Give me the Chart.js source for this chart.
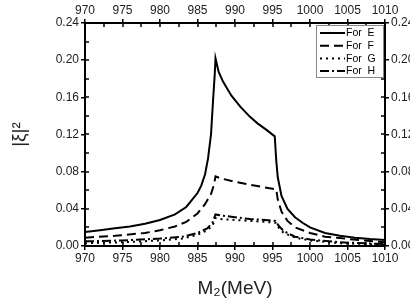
<!DOCTYPE html>
<html>
<head>
<meta charset="utf-8">
<script src="https://cdn.jsdelivr.net/npm/chart.js@4/dist/chart.umd.min.js"></script>
<style>
html,body{margin:0;padding:0;background:#fff;overflow:hidden;width:410px;height:307px;}
#wrap{width:430px;height:307px;position:relative;}
</style>
</head>
<body>
<div id="wrap"><canvas id="c" width="430" height="307"></canvas></div>
<script>
const seriesLabels = ['For  E', 'For  F', 'For  G', 'For  H'];
const xTickValues = [970, 975, 980, 985, 990, 995, 1000, 1005, 1010];
const yTickValues = [0, 0.04, 0.08, 0.12, 0.16, 0.20, 0.24];

const eX = [970,972,974,976,978,980,982,983.5,985,985.5,986,986.4,986.8,987.1,987.3,987.4,987.8,988.4,989.5,990.7,992,993,994.2,995.3,995.5,995.7,996.2,997,998,999,1000,1002,1004,1006,1008,1010];
const eY = [0.015,0.017,0.019,0.021,0.024,0.028,0.034,0.042,0.057,0.065,0.077,0.094,0.120,0.160,0.185,0.202,0.188,0.177,0.162,0.150,0.139,0.132,0.125,0.118,0.092,0.074,0.054,0.040,0.031,0.025,0.020,0.014,0.011,0.009,0.0075,0.0065];

const fX = [970,974,978,980,982,983.5,985,986,986.8,987.2,987.4,988,990,992,994,995.5,995.7,996.2,997,998,1000,1002,1004,1007,1010];
const fY = [0.009,0.011,0.014,0.017,0.021,0.026,0.035,0.045,0.056,0.066,0.075,0.073,0.069,0.066,0.063,0.061,0.050,0.037,0.027,0.020,0.014,0.010,0.0085,0.006,0.004];

const gX = [970,975,980,983,985,986.3,987,987.4,988,990,992,994,995.4,995.8,996.5,998,1000,1004,1010];
const gY = [0.003,0.004,0.006,0.008,0.012,0.017,0.022,0.030,0.029,0.028,0.027,0.026,0.025,0.020,0.014,0.009,0.006,0.003,0.0015];

const hX = [970,975,980,983,985,986.3,987,987.4,988,990,992,994,995.4,995.8,996.5,998,1000,1004,1010];
const hY = [0.005,0.006,0.008,0.010,0.014,0.019,0.025,0.034,0.033,0.031,0.029,0.028,0.027,0.022,0.016,0.010,0.007,0.004,0.002];

function pts(xs, ys){ return xs.map((x,i)=>({x:x, y:ys[i]})); }

const dashes = [[], [9,5], [2,4], [9,3,2,3]];
const allX = [eX, fX, gX, hX], allY = [eY, fY, gY, hY];

const datasets = seriesLabels.map((lab,i)=>({
  label: lab,
  data: pts(allX[i], allY[i]),
  borderColor: '#000',
  borderWidth: 2,
  borderDash: dashes[i],
  pointRadius: 0,
  fill: false,
  tension: 0
}));

const FONT = 'Liberation Sans, Arial, sans-serif';

const minorTicks = {
  id: 'minorTicks',
  afterDraw(chart){
    const ctx = chart.ctx, a = chart.chartArea;
    const xs = chart.scales.x, ys = chart.scales.y;
    ctx.save();
    ctx.strokeStyle = '#000'; ctx.lineWidth = 1.5;
    for (let v = 970; v <= 1010.001; v += 2.5){
      const px = Math.round(xs.getPixelForValue(v));
      ctx.beginPath(); ctx.moveTo(px, a.bottom); ctx.lineTo(px, a.bottom-4); ctx.stroke();
      ctx.beginPath(); ctx.moveTo(px, a.top); ctx.lineTo(px, a.top+4); ctx.stroke();
    }
    for (let v = 0; v <= 0.2401; v += 0.02){
      const py = Math.round(ys.getPixelForValue(v));
      ctx.beginPath(); ctx.moveTo(a.left, py); ctx.lineTo(a.left+4, py); ctx.stroke();
      ctx.beginPath(); ctx.moveTo(a.right, py); ctx.lineTo(a.right-4, py); ctx.stroke();
    }
    ctx.restore();
  }
};

const boxLegend = {
  id: 'boxLegend',
  afterDraw(chart){
    const ctx = chart.ctx, a = chart.chartArea;
    const bx = a.right - 69, by = a.top + 2, bw = 67, bh = 52;
    ctx.save();
    ctx.fillStyle = '#fff';
    ctx.fillRect(bx, by, bw, bh);
    ctx.strokeStyle = '#888'; ctx.lineWidth = 1;
    ctx.strokeRect(bx+0.5, by+0.5, bw, bh);
    ctx.font = '10.5px ' + FONT;
    ctx.textBaseline = 'middle';
    ctx.fillStyle = '#000';
    chart.data.datasets.forEach((ds,i)=>{
      const y = by + 8 + i*12.7;
      ctx.strokeStyle = '#000'; ctx.lineWidth = 2;
      ctx.setLineDash(ds.borderDash);
      ctx.beginPath(); ctx.moveTo(bx+4, y); ctx.lineTo(bx+29, y); ctx.stroke();
      ctx.setLineDash([]);
      ctx.fillText(ds.label, bx+30, y+0.5);
    });
    ctx.restore();
  }
};

function axisCommon(){
  return {
    grid: {display:true, drawOnChartArea:false, drawTicks:true, tickLength:4, color:'#000', lineWidth:1.5},
    border: {display:true, color:'#000', width:2}
  };
}
const tickFont = {family:FONT, size:12};
const xFmt = v => String(v);
const yFmt = v => Number(v).toFixed(2);

new Chart(document.getElementById('c'), {
  type: 'line',
  data: { datasets },
  options: {
    responsive: false,
    animation: false,
    events: [],
    layout: {padding: 0},
    plugins: { legend: {display:false}, tooltip: {enabled:false} },
    scales: {
      x: Object.assign(axisCommon(), {
        type: 'linear', position: 'bottom', min: 970, max: 1010,
        afterBuildTicks(s){ s.ticks = xTickValues.map(v=>({value:v})); },
        afterFit(s){ s.height = 61; },
        ticks: {color:'#222', font:tickFont, padding:1, maxRotation:0, autoSkip:false, callback:xFmt},
        title: {display:true, text:'M\u2082(MeV)', color:'#222', font:{family:FONT, size:19}, padding:{top:0, bottom:7}}
      }),
      x2: Object.assign(axisCommon(), {
        type: 'linear', position: 'top', min: 970, max: 1010,
        afterBuildTicks(s){ s.ticks = xTickValues.map(v=>({value:v})); },
        afterFit(s){ s.height = 23; },
        ticks: {color:'#222', font:tickFont, padding:1, maxRotation:0, autoSkip:false, callback:xFmt}
      }),
      y: Object.assign(axisCommon(), {
        type: 'linear', position: 'left', min: 0, max: 0.24,
        afterBuildTicks(s){ s.ticks = yTickValues.map(v=>({value:v})); },
        afterFit(s){ s.width = 85; },
        ticks: {color:'#222', font:tickFont, padding:2, callback:yFmt},
        title: {display:true, text:'|\u03BE|\u00B2', color:'#222', font:{family:FONT, size:19}, padding:{top:8, bottom:0}}
      }),
      y2: Object.assign(axisCommon(), {
        type: 'linear', position: 'right', min: 0, max: 0.24,
        afterBuildTicks(s){ s.ticks = yTickValues.map(v=>({value:v})); },
        afterFit(s){ s.width = 45; },
        ticks: {color:'#222', font:tickFont, padding:2, callback:yFmt}
      })
    }
  },
  plugins: [minorTicks, boxLegend]
});
</script>
</body>
</html>
